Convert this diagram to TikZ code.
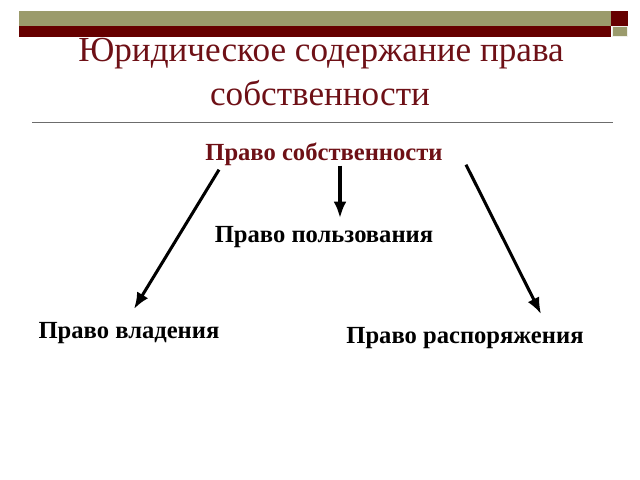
\documentclass[tikz,border=0pt]{standalone}
\usepackage{fontspec}
\setmainfont{Liberation Serif}
\usetikzlibrary{positioning,calc,arrows.meta}
\definecolor{barolive}{RGB}{155,155,108}
\definecolor{barred}{RGB}{102,0,0}
\definecolor{titlered}{RGB}{110,16,22}

\begin{document}
\begin{tikzpicture}[x=0.03cm, y=0.03cm,
                    titlenode/.style={inner sep=0, anchor=base, text=titlered, font=\fontsize{30}{36}\selectfont},
                    headnode/.style={inner sep=0, anchor=base, text=titlered, font=\bfseries\fontsize{21}{25}\selectfont},
                    rightnode/.style={inner sep=0, anchor=base, font=\bfseries\fontsize{21}{25}\selectfont},
                    arr/.style={line width=2.6pt, -{Latex[length=14pt,width=11pt]}},
                ]
                    \useasboundingbox (0,0) rectangle (640,-480);

                    %Bars
                    \fill[barolive] (19,-10.7) rectangle (611,-26);
                    \fill[barred] (19,-26) rectangle (611,-36.7);
                    \fill[barred] (611,-10.7) rectangle (628,-26);
                    \filldraw[barolive, draw=white!85!barolive, line width=0.5pt] (612,-26.5) rectangle (627.5,-36.7);
                    \draw[gray!85!black, line width=1.6pt] (32,-122.5) -- (613,-122.5);

                    %Nodes
                    \node[titlenode](title1) at (321,-62) {Юридическое содержание права};
                    \node[titlenode](title2) at (320,-106) {собственности};
                    \node[headnode](own) at (324,-160.7) {Право собственности};
                    \node[rightnode](pol) at (324,-242) {Право пользования};
                    \node[rightnode](vlad) at (129,-338) {Право владения};
                    \node[rightnode](rasp) at (465,-343) {Право распоряжения};

                    %Lines
                    \draw[arr] ($(own.base)+(-105,-9)$) -- ($(vlad.base)+(5,29)$);
                    \draw[arr] ($(own.base)+(16,-5)$) -- ($(pol.base)+(16,24)$);
                    \draw[arr] ($(own.base)+(142,-4)$) -- ($(rasp.base)+(76,29)$);
                \end{tikzpicture}
\end{document}
